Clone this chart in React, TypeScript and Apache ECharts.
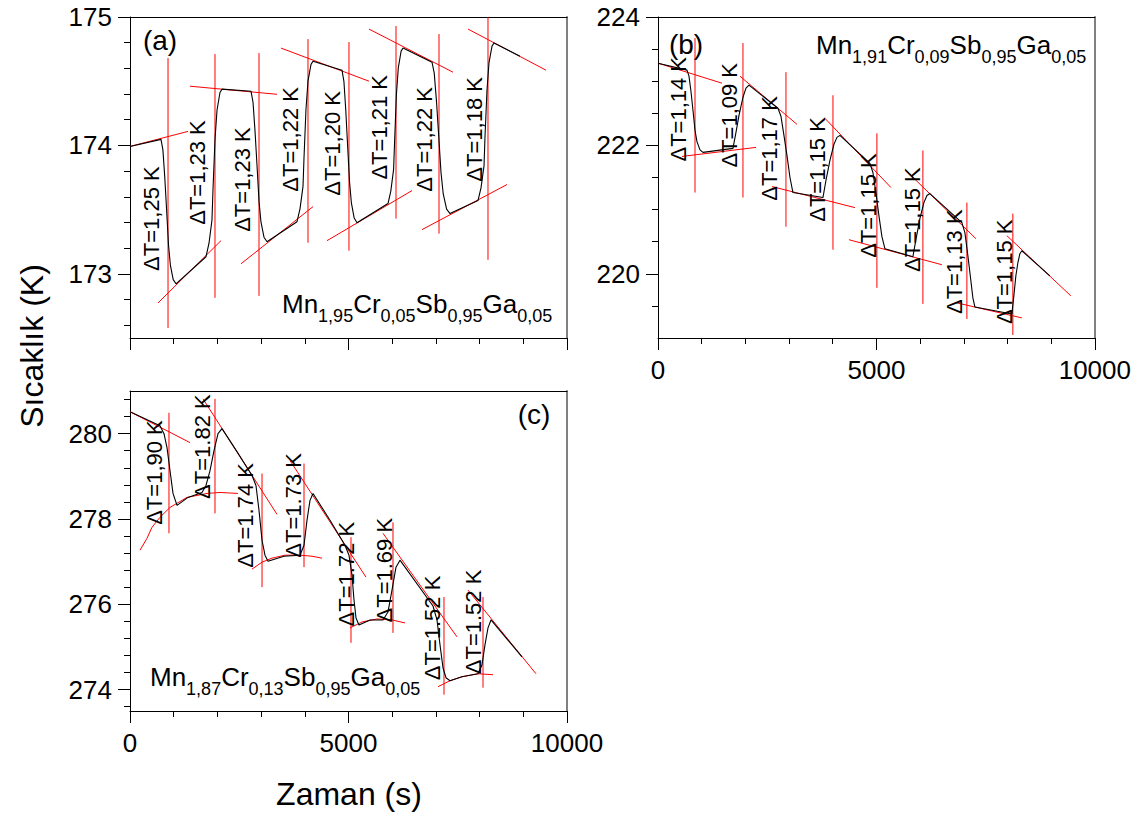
import React, { useEffect, useRef } from "react";
import * as echarts from "echarts";

const FONT = "Liberation Sans, Arial, Helvetica, sans-serif";

// ---------- Panel (a) ----------
const curveA: number[][] = [
  [0, 173.992], [709, 174.047], [753, 173.965], [795, 173.755], [838, 173.495], [881, 173.226], [924, 173.068], [989, 172.955], [1053, 172.922],
  [1739, 173.133], [1808, 173.238], [1876, 173.42], [1899, 173.655], [1945, 174.046], [1991, 174.274], [2059, 174.412], [2105, 174.438],
  [2769, 174.422], [2815, 174.336], [2860, 174.117], [2906, 173.848], [2952, 173.566], [2998, 173.402], [3066, 173.285], [3135, 173.25],
  [3822, 173.406], [3890, 173.506], [3959, 173.681], [3982, 173.906], [4027, 174.281], [4073, 174.5], [4142, 174.631], [4188, 174.656],
  [4851, 174.586], [4895, 174.499], [4937, 174.277], [4979, 174.004], [5023, 173.719], [5066, 173.553], [5130, 173.434], [5194, 173.398],
  [5904, 173.547], [5968, 173.644], [6032, 173.813], [6055, 174.031], [6096, 174.395], [6140, 174.606], [6204, 174.734], [6247, 174.758],
  [6911, 174.648], [6962, 174.563], [7014, 174.341], [7065, 174.07], [7117, 173.788], [7168, 173.622], [7245, 173.504], [7323, 173.469],
  [7963, 173.57], [8032, 173.669], [8101, 173.84], [8123, 174.061], [8169, 174.429], [8215, 174.644], [8284, 174.773], [8329, 174.797],
  [8924, 174.695],
];
// [x, yTop, yBottom]
const vertA: number[][] = [
  [870, 174.68, 172.578], [1945, 174.711, 172.813], [2952, 174.719, 172.828], [4073, 174.828, 173.242],
  [5011, 174.805, 173.18], [6087, 174.93, 173.43], [7071, 174.867, 173.313], [8192, 175.0, 173.109],
];
// [x1, y1, x2, y2]
const tanA: number[][] = [
  [0, 173.992, 1327, 174.109], [1373, 174.461, 3364, 174.398], [3455, 174.758, 5469, 174.5],
  [5469, 174.906, 7391, 174.57], [7734, 174.906, 9519, 174.586],
  [641, 172.773, 2082, 173.258], [2540, 173.078, 4188, 173.523], [4508, 173.258, 6453, 173.648], [6682, 173.344, 8627, 173.695],
];
const dtA: string[] = ["ΔT=1,25 K", "ΔT=1,23 K", "ΔT=1,23 K", "ΔT=1,22 K", "ΔT=1,20 K", "ΔT=1,21 K", "ΔT=1,22 K", "ΔT=1,18 K"];
const dtPosA: number[][] = [
  [503, 173.43], [1556, 173.789], [2563, 173.734], [3684, 174.047], [4645, 174.016], [5698, 174.141], [6750, 174.047], [7872, 174.125],
];
const yMajorA = [173, 174, 175];
const yMinorA = [172.6, 172.8, 173.2, 173.4, 173.6, 173.8, 174.2, 174.4, 174.6, 174.8];

// ---------- Panel (b) ----------
const curveB: number[][] = [
  [0, 223.281], [664, 223.172], [709, 223.078], [755, 222.839], [801, 222.544], [847, 222.236], [892, 222.058], [961, 221.93], [1030, 221.891],
  [1716, 221.953], [1785, 222.203], [1854, 222.469], [1945, 222.75], [2014, 222.891], [2082, 222.938],
  [2746, 222.578], [2815, 222.453], [2883, 222.156], [2952, 221.844], [3021, 221.5], [3089, 221.266],
  [3776, 221.188], [3844, 221.453], [3936, 221.766], [4027, 222.016], [4096, 222.125], [4165, 222.156],
  [4851, 221.719], [4920, 221.578], [4988, 221.266], [5057, 220.906], [5126, 220.578], [5194, 220.391],
  [5835, 220.266], [5904, 220.531], [5995, 220.859], [6087, 221.109], [6156, 221.219], [6224, 221.25],
  [6956, 220.797], [7025, 220.641], [7094, 220.281], [7162, 219.891], [7208, 219.625], [7254, 219.484],
  [8101, 219.375], [8146, 219.656], [8192, 219.969], [8238, 220.172], [8284, 220.313], [8329, 220.359],
  [8970, 219.969],
];
const vertB: number[][] = [
  [847, 223.672, 221.266], [1945, 223.594, 221.188], [2929, 223.141, 220.734], [4005, 222.781, 220.375],
  [5011, 222.188, 219.781], [6064, 221.922, 219.531], [7071, 221.109, 219.297], [8123, 220.938, 219.047],
];
const tanB: number[][] = [
  [0, 223.281, 1465, 222.969], [1876, 223.078, 3181, 222.328], [3821, 222.422, 5332, 221.344],
  [5675, 221.609, 7277, 220.547], [7986, 220.594, 9451, 219.656],
  [549, 221.828, 2243, 221.969], [2609, 221.359, 4508, 221.031], [4371, 220.531, 6499, 220.141], [6842, 219.547, 8329, 219.313],
];
const dtB: string[] = ["ΔT=1,14 K", "ΔT=1,09 K", "ΔT=1,17 K", "ΔT=1,15 K", "ΔT=1,15 K", "ΔT=1,15 K", "ΔT=1,13 K", "ΔT=1,15 K"];
const dtPosB: number[][] = [
  [458, 222.563], [1648, 222.469], [2563, 221.953], [3661, 221.625], [4828, 221.063], [5835, 220.844], [6796, 220.188], [7940, 220.031],
];
const yMajorB = [220, 222, 224];
const yMinorB = [219.5, 220.5, 221, 221.5, 222.5, 223, 223.5];

// ---------- Panel (c) ----------
const curveC: number[][] = [
  [0, 280.514], [686, 280.187], [778, 280.0], [847, 279.673], [915, 279.136], [984, 278.599], [1076, 278.319],
  [1327, 278.506], [1648, 278.622], [1739, 278.786], [1831, 279.136], [1922, 279.603], [2014, 280.0], [2105, 280.117],
  [2448, 279.58], [2792, 279.019], [2883, 278.786], [2952, 278.202], [3021, 277.502], [3089, 277.152], [3158, 277.011],
  [3524, 277.128], [3890, 277.152], [3982, 277.385], [4050, 277.969], [4119, 278.436], [4188, 278.599],
  [4577, 277.969], [4920, 277.385], [5011, 277.152], [5080, 276.685], [5126, 276.101], [5172, 275.681], [5240, 275.517],
  [5492, 275.634], [5789, 275.634], [5904, 275.821], [5995, 276.334], [6087, 276.871], [6178, 277.035],
  [6934, 275.961], [7025, 275.634], [7094, 275.05], [7162, 274.513], [7231, 274.28], [7323, 274.21],
  [7597, 274.303], [7963, 274.373], [8055, 274.583], [8123, 275.05], [8192, 275.447], [8261, 275.634],
  [8970, 274.77],
];
const vertC: number[][] = [
  [892, 280.49, 277.665], [1945, 280.817, 278.132], [3021, 279.066, 276.404], [3982, 279.3, 276.871],
  [5057, 277.572, 275.097], [6018, 277.922, 275.33], [7185, 276.171, 273.883], [8078, 276.171, 274.046],
];
const tanC: number[][] = [
  [0, 280.514, 1373, 279.79], [1670, 280.817, 3364, 278.109], [3661, 279.37, 5400, 276.638],
  [5789, 277.665, 7483, 275.237], [7734, 276.334, 9290, 274.373],
];
const arcC1: number[][] = [[229, 277.268], [389, 277.548], [503, 277.805], [686, 278.039], [915, 278.272], [1304, 278.506], [1762, 278.599], [2059, 278.622], [2471, 278.599]];
const arcC2: number[][] = [[2792, 276.825], [3021, 276.988], [3249, 277.082], [3547, 277.152], [3890, 277.152], [4165, 277.128], [4394, 277.082]];
const arcC3: number[][] = [[5034, 275.447], [5309, 275.587], [5652, 275.657], [5995, 275.634], [6293, 275.564]];
const arcC4: number[][] = [[7048, 274.07], [7323, 274.21], [7597, 274.303], [7963, 274.373], [8307, 274.35]];
const dtC: string[] = ["ΔT=1,90 K", "ΔT=1.82 K", "ΔT=1.74 K", "ΔT=1.73 K", "ΔT=1.72 K", "ΔT=1.69 K", "ΔT=1.52 K", "ΔT=1.52 K"];
const dtPosC: number[][] = [
  [572, 279.089], [1670, 279.696], [2632, 278.085], [3730, 278.319], [4943, 276.708], [5835, 276.801], [6911, 275.447], [7849, 275.587],
];
const yMajorC = [274, 276, 278, 280];
const yMinorC = [273.6, 274.4, 274.8, 275.2, 275.6, 276.4, 276.8, 277.2, 277.6, 278.4, 278.8, 279.2, 279.6, 280.4, 280.8];

const xRange = [0, 10000];
const xInterval = 5000;

const RED = "#ff0000";

function buildAxes(gi: number, yMin: number, yMax: number, majors: number[], minors: number[], showX: boolean) {
  const xs = [
    {
      type: "value", gridIndex: gi, min: xRange[0], max: xRange[1], interval: xInterval, position: "bottom",
      axisLine: { show: true, onZero: false, lineStyle: { color: "#000", width: 1 } },
      axisTick: { show: true, length: 12, lineStyle: { color: "#000", width: 1 } },
      minorTick: { show: true, splitNumber: 5, length: 6, lineStyle: { color: "#000", width: 1 } },
      axisLabel: { show: showX, fontSize: 26, color: "#000", margin: 19, fontFamily: FONT, formatter: (v: number) => String(v) },
      splitLine: { show: false }, minorSplitLine: { show: false },
    },
    {
      type: "value", gridIndex: gi, min: 0, max: 1, position: "top",
      axisLine: { show: true, onZero: false, lineStyle: { color: "#000", width: 1 } },
      axisTick: { show: false }, axisLabel: { show: false }, splitLine: { show: false },
    },
  ];
  const ys = [
    {
      type: "value", gridIndex: gi, min: yMin, max: yMax, position: "left",
      axisLine: { show: true, onZero: false, lineStyle: { color: "#000", width: 1 } },
      axisTick: { show: true, length: 12, customValues: majors, lineStyle: { color: "#000", width: 1 } },
      axisLabel: { show: true, customValues: majors, fontSize: 26, color: "#000", margin: 18, fontFamily: FONT, formatter: (v: number) => String(v) },
      splitLine: { show: false },
    },
    {
      type: "value", gridIndex: gi, min: yMin, max: yMax, position: "left",
      axisLine: { show: false, onZero: false },
      axisTick: { show: true, length: 6, customValues: minors, lineStyle: { color: "#000", width: 1 } },
      axisLabel: { show: false }, splitLine: { show: false },
    },
    {
      type: "value", gridIndex: gi, min: 0, max: 1, position: "right",
      axisLine: { show: true, onZero: false, lineStyle: { color: "#808080", width: 2 } },
      axisTick: { show: false }, axisLabel: { show: false }, splitLine: { show: false },
    },
  ];
  return { xs, ys };
}

function buildSeries(gi: number, curve: number[][], verts: number[][], tans: number[][], arcs: number[][][], texts: string[], pos: number[][]) {
  const xi = gi * 2;
  const yi = gi * 3;
  const out: any[] = [];
  const redLine = (data: number[][]) => ({
    type: "line", xAxisIndex: xi, yAxisIndex: yi, data, symbol: "none", silent: true, z: 2,
    lineStyle: { color: RED, width: 1 }, itemStyle: { color: RED },
  });
  verts.forEach((v) => out.push(redLine([[v[0], v[1]], [v[0], v[2]]])));
  tans.forEach((t) => out.push(redLine([[t[0], t[1]], [t[2], t[3]]])));
  arcs.forEach((a) => out.push(redLine(a)));
  out.push({
    type: "line", xAxisIndex: xi, yAxisIndex: yi, data: curve, symbol: "none", silent: true, z: 3,
    lineStyle: { color: "#000", width: 1.1 }, itemStyle: { color: "#000" },
  });
  out.push({
    type: "scatter", xAxisIndex: xi, yAxisIndex: yi, symbol: "circle", symbolSize: 1, silent: true, z: 4,
    itemStyle: { color: "#000", opacity: 0 },
    labelLayout: { hideOverlap: false },
    data: pos.map((p, i) => ({ value: p, name: texts[i] })),
    label: {
      show: true, position: "inside", formatter: "{b}", rotate: 90, fontSize: 22, color: "#000", opacity: 1,
      textBorderWidth: 0, fontFamily: FONT, align: "center", verticalAlign: "middle",
    },
  });
  return out;
}

function formula(x: number, y: number, parts: string[]) {
  const text = parts.map((p, i) => (i % 2 === 0 ? `{m|${p}}` : `{s|${p}}`)).join("");
  return {
    type: "text", x, y, silent: true, z: 10,
    style: {
      text, fill: "#000", fontFamily: FONT, fontSize: 26,
      align: "left", textAlign: "left", verticalAlign: "middle", textVerticalAlign: "middle",
      rich: {
        m: { fontSize: 26, lineHeight: 26, fontFamily: FONT, fill: "#000", color: "#000" },
        s: { fontSize: 18, lineHeight: 18, fontFamily: FONT, fill: "#000", color: "#000", padding: [24, 0, 0, 0] },
      },
    },
  };
}

function plainText(x: number, y: number, text: string, size: number, rotation = 0) {
  return {
    type: "text", x, y, rotation, silent: true, z: 10,
    style: {
      text, fill: "#000", fontFamily: FONT, fontSize: size,
      align: "center", textAlign: "center", verticalAlign: "middle", textVerticalAlign: "middle",
    },
  };
}

export default function App() {
  const ref = useRef<HTMLDivElement>(null);
  useEffect(() => {
    if (!ref.current) return;
    const chart = echarts.init(ref.current, null, { renderer: "svg" });
    const a = buildAxes(0, 172.5, 175, yMajorA, yMinorA, false);
    const b = buildAxes(1, 219, 224, yMajorB, yMinorB, true);
    const c = buildAxes(2, 273.5, 281, yMajorC, yMinorC, true);
    const option: any = {
      animation: false,
      backgroundColor: "#fff",
      textStyle: { fontFamily: FONT },
      grid: [
        { left: 130, top: 17, width: 437, height: 321 },
        { left: 658, top: 17, width: 437, height: 321 },
        { left: 130, top: 391, width: 437, height: 320 },
      ],
      xAxis: [...a.xs, ...b.xs, ...c.xs],
      yAxis: [...a.ys, ...b.ys, ...c.ys],
      series: [
        ...buildSeries(0, curveA, vertA, tanA, [], dtA, dtPosA),
        ...buildSeries(1, curveB, vertB, tanB, [], dtB, dtPosB),
        ...buildSeries(2, curveC, vertC, tanC, [arcC1, arcC2, arcC3, arcC4], dtC, dtPosC),
      ],
      graphic: [
        plainText(160, 40, "(a)", 28),
        plainText(686, 44, "(b)", 28),
        plainText(534, 414, "(c)", 28),
        formula(282, 304, ["Mn", "1,95", "Cr", "0,05", "Sb", "0,95", "Ga", "0,05"]),
        formula(816, 45, ["Mn", "1,91", "Cr", "0,09", "Sb", "0,95", "Ga", "0,05"]),
        formula(150, 677, ["Mn", "1,87", "Cr", "0,13", "Sb", "0,95", "Ga", "0,05"]),
        plainText(32, 346, "Sıcaklık (K)", 32, Math.PI / 2),
        plainText(349, 794, "Zaman (s)", 32),
      ],
    };
    chart.setOption(option);
    return () => chart.dispose();
  }, []);
  return <div ref={ref} style={{ position: "absolute", left: 0, top: 0, width: 1134, height: 814 }} />;
}
